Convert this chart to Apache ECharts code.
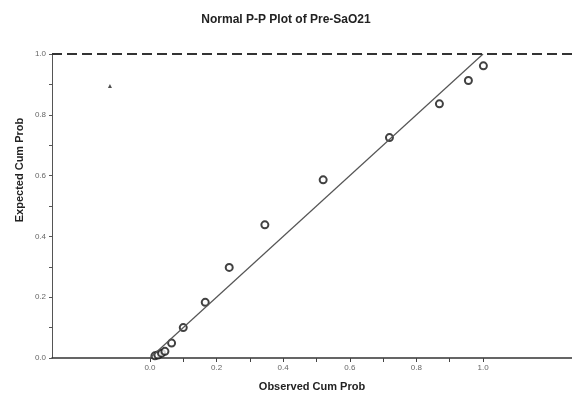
<!DOCTYPE html>
<html>
<head>
<meta charset="utf-8">
<script src="https://cdn.jsdelivr.net/npm/echarts@6/dist/echarts.min.js"></script>
<style>html,body{margin:0;padding:0;background:#fff}#c{width:572px;height:397px}</style>
</head>
<body>
<div id="c"></div>
<script>
// Observed cumulative probabilities (x) and expected cumulative probabilities (y)
var observed = [0.015, 0.024, 0.035, 0.045, 0.065, 0.100, 0.166, 0.238, 0.345, 0.520, 0.719, 0.869, 0.956, 1.001];
var expected = [0.007, 0.010, 0.016, 0.022, 0.049, 0.100, 0.183, 0.298, 0.438, 0.586, 0.725, 0.836, 0.913, 0.961];
// Stray mark in the upper-left of the plot area
var strayX = [-0.12];
var strayY = [0.895];
// Reference diagonal
var refX = [0, 1];
var refY = [0, 1];
// Tick labels
var tickLabels = [0, 0.2, 0.4, 0.6, 0.8, 1.0];
var minorTicks = [0, 0.1, 0.2, 0.3, 0.4, 0.5, 0.6, 0.7, 0.8, 0.9, 1.0];

var pts = observed.map(function (v, i) { return [v, expected[i]]; });
var stray = strayX.map(function (v, i) { return [v, strayY[i]]; });
var ref = refX.map(function (v, i) { return [v, refY[i]]; });

var font = '"Liberation Sans", Arial, sans-serif';
var chart = echarts.init(document.getElementById('c'));
chart.setOption({
  animation: false,
  backgroundColor: '#fff',
  title: {
    text: 'Normal P-P Plot of Pre-SaO21',
    left: 'center', top: 9,
    textStyle: { fontFamily: font, fontSize: 12, fontWeight: 'bold', color: '#222' }
  },
  graphic: [{
    type: 'text',
    x: 20, y: 170, rotation: Math.PI / 2,
    style: {
      text: 'Expected Cum Prob', fontFamily: font, fontSize: 11, fontWeight: 'bold',
      fill: '#222', align: 'center', verticalAlign: 'middle'
    }
  }],
  grid: { left: 52, right: 0, top: 54, bottom: 37, containLabel: false },
  xAxis: {
    type: 'value', min: -0.294, max: 1.267,
    name: 'Observed Cum Prob', nameLocation: 'middle', nameGap: 23,
    nameTextStyle: { fontFamily: font, fontSize: 11, fontWeight: 'bold', color: '#222' },
    axisLine: { onZero: false, lineStyle: { color: '#333', width: 1.5 } },
    axisTick: { show: true, customValues: minorTicks, length: 4, lineStyle: { color: '#444' } },
    axisLabel: { customValues: tickLabels, formatter: function (v) { return v.toFixed(1); },
      fontFamily: font, fontSize: 8, color: '#666', margin: 6 },
    splitLine: { show: false }
  },
  yAxis: {
    type: 'value', min: 0, max: 1,
    axisLine: { show: true, onZero: false, lineStyle: { color: '#555', width: 1 } },
    axisTick: { show: true, customValues: minorTicks, length: 3, lineStyle: { color: '#555' } },
    axisLabel: { customValues: tickLabels, formatter: function (v) { return v.toFixed(1); },
      fontFamily: font, fontSize: 8, color: '#666', margin: 6 },
    splitLine: { show: false }
  },
  series: [
    {
      type: 'line', data: ref, symbol: 'none', silent: true,
      lineStyle: { color: '#555', width: 1.2 },
      markLine: {
        silent: true, symbol: ['none', 'none'], label: { show: false },
        lineStyle: { color: '#333', type: [10, 5], width: 2 },
        data: [{ yAxis: 1 }]
      }
    },
    {
      type: 'scatter', data: pts, symbol: 'circle', symbolSize: 7,
      itemStyle: { color: '#fff', borderColor: '#111', borderWidth: 2 }
    },
    {
      type: 'scatter', data: stray, symbol: 'triangle', symbolSize: 4,
      itemStyle: { color: '#222' }
    }
  ]
});
</script>
</body>
</html>
